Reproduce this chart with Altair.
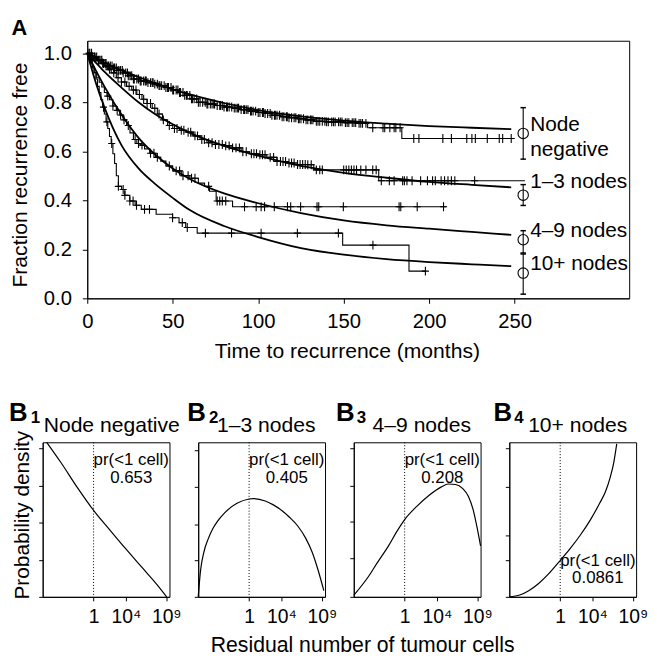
import altair as alt
import numpy as np
import pandas as pd

FONT = "Liberation Sans"

# ---------------- Panel A data ----------------
groups = ["Node negative", "1–3 nodes", "4–9 nodes", "10+ nodes"]

# Kaplan-Meier step curves: time of step (months) and survival after the step
km_nn_t = [0, 3, 6, 9, 12, 15, 18, 21, 24, 27, 31, 35, 39, 42, 46, 50, 54, 57, 61, 65, 70, 75, 80, 85,
           90, 95, 100, 104, 108, 113, 118, 123, 128, 133, 140, 150, 158, 164, 184, 249]
km_nn_s = [1.0, 0.985, 0.972, 0.958, 0.948, 0.94, 0.93, 0.92, 0.908, 0.895, 0.887, 0.88, 0.874, 0.868,
           0.86, 0.85, 0.84, 0.828, 0.814, 0.8, 0.793, 0.787, 0.781, 0.776, 0.77, 0.764, 0.758, 0.754,
           0.747, 0.741, 0.737, 0.733, 0.728, 0.722, 0.72, 0.717, 0.714, 0.696, 0.652, 0.652]

km_13_t = [0, 2, 4, 6, 8, 10, 12, 14, 17, 20, 23, 26, 29, 32, 35, 38, 41, 44, 47, 50, 54, 58, 62, 66,
           70, 75, 80, 85, 90, 95, 100, 105, 111, 117, 123, 128, 132.5, 170.5, 256]
km_13_s = [1.0, 0.99, 0.98, 0.97, 0.96, 0.948, 0.935, 0.92, 0.90, 0.883, 0.865, 0.85, 0.832, 0.812,
           0.795, 0.775, 0.752, 0.728, 0.705, 0.693, 0.686, 0.678, 0.663, 0.648, 0.635, 0.628, 0.622,
           0.614, 0.598, 0.59, 0.586, 0.575, 0.558, 0.552, 0.546, 0.545, 0.524, 0.48, 0.48]

km_49_t = [0, 1, 2, 3, 4, 5.5, 7, 8.5, 10, 11.5, 13, 15, 17, 19, 21, 23, 25, 27, 29, 31, 33.5, 36.5,
           40, 43, 46, 50, 55, 60, 65, 68.6, 71.5, 75.4, 85, 210]
km_49_s = [1.0, 0.975, 0.957, 0.94, 0.922, 0.9, 0.882, 0.862, 0.84, 0.825, 0.81, 0.785, 0.767, 0.748,
           0.728, 0.705, 0.675, 0.648, 0.632, 0.625, 0.61, 0.592, 0.575, 0.56, 0.54, 0.52, 0.5, 0.49,
           0.47, 0.457, 0.437, 0.397, 0.374, 0.374]

km_10_t = [0, 1, 2, 3, 4, 5, 6, 7, 8, 9, 10, 11, 12, 13, 14, 15, 16, 17, 18.2, 20.1, 22, 24.9, 28,
           31.6, 40.3, 49.9, 53.7, 57.6, 64.3, 149.4, 188.2, 198]
km_10_s = [1.0, 0.985, 0.965, 0.945, 0.92, 0.895, 0.865, 0.84, 0.81, 0.78, 0.752, 0.72, 0.693, 0.66,
           0.632, 0.59, 0.55, 0.5, 0.457, 0.444, 0.42, 0.397, 0.38, 0.363, 0.343, 0.329, 0.309,
           0.289, 0.266, 0.217, 0.111, 0.111]

# censoring times (months)
cens_nn = [1, 1.5, 2.5, 3, 4, 4.5, 5.5, 6.5, 7, 8, 8.5, 9.5, 10.5, 11, 12, 12.5, 13.5, 14.5, 15.5, 16,
           17, 18, 18.5, 19.5, 20.5, 21, 22.5, 23.5, 24, 25, 26, 27, 27.5, 29, 30, 31, 31.5, 33, 34,
           34.5, 35.5, 37, 38, 38.5, 39.5, 41, 42, 42.5, 43.5, 45, 46, 47, 47.5, 49, 50, 50.5, 52,
           53, 54, 54.5, 56, 57, 58, 58.5, 60, 61, 61.5, 62.5, 64, 65, 66, 67.5, 69, 70, 70.5, 72, 73,
           74, 74.5, 76, 77.5, 78, 79, 80, 81.5, 82, 83, 84.5, 86, 87, 88, 88.5, 90, 91.5, 92, 93, 94,
           95.5, 96, 97, 98.5, 100, 101, 102.5, 103, 104, 105.5, 107, 108, 109.5, 110, 111, 112.5,
           114, 115, 116.5, 117, 118, 119.5, 121, 122, 123.5, 124, 125, 126.5, 128, 129, 130.5, 131,
           132, 134, 135, 136, 137.5, 139, 140, 141, 143, 144, 145, 147, 148, 149, 151, 152, 153,
           155, 156, 157, 159, 160, 161, 163, 167, 173, 174, 177, 179.5, 180.5, 183, 191, 194, 208,
           213, 222, 225, 227, 234, 241, 243, 248]
cens_13 = [2.5, 4.5, 6.5, 9, 11, 13, 15.5, 18, 20, 22, 24.5, 27, 28.5, 30.5, 33, 35, 37, 39.5, 42, 44.5,
           48, 51, 52.5, 55, 56.5, 59, 60.5, 63, 64.5, 67, 68.5, 71, 73, 75, 77, 79, 81, 83, 85, 87, 89,
           91, 93, 96, 97.5, 99, 101, 102.5, 104, 107, 109, 111, 113, 114.5, 116, 118, 119.5, 121, 123,
           124.5, 126, 127.5, 129, 131, 134, 136, 137.5, 150, 151.5, 153, 154.5, 156, 157.5, 160, 163,
           167, 169, 172, 176.7, 179.5, 184.5, 185.5, 187, 190, 195, 199, 202, 203.6, 207, 209, 211,
           213, 215, 226.6]
cens_49 = [12, 15, 17.5, 19.5, 21.5, 24, 28, 30, 32, 37, 39, 41, 48, 52, 54, 56, 59, 61, 63, 71, 76,
           77.5, 79, 81, 92, 98.8, 101.7, 103.7, 109.4, 117.1, 119, 124.8, 134.4, 135.4, 149.8, 182.4,
           183.4, 193, 208.4]
cens_10 = [9.5, 11.5, 14.3, 18.2, 21, 22, 24.9, 26.8, 28.8, 33.5, 36.4, 49.9, 55.6, 58.5, 69.1, 84.4,
           101.7, 122.9, 146.9, 167.1, 197.8]

# fitted model curves
smooth_t = [0, 5, 10, 20, 30, 40, 50, 60, 80, 100, 125, 150, 175, 200, 225, 248]
smooth_nn = [1.0, 0.98, 0.962, 0.93, 0.903, 0.877, 0.853, 0.832, 0.797, 0.768, 0.742, 0.725, 0.713,
             0.703, 0.696, 0.69]
smooth_13 = [1.0, 0.962, 0.925, 0.86, 0.80, 0.75, 0.71, 0.675, 0.622, 0.582, 0.54, 0.512, 0.492,
             0.475, 0.463, 0.453]
smooth_49 = [1.0, 0.93, 0.865, 0.75, 0.655, 0.585, 0.53, 0.487, 0.428, 0.388, 0.348, 0.318, 0.298,
             0.284, 0.271, 0.259]
smooth_10 = [1.0, 0.88, 0.78, 0.625, 0.53, 0.465, 0.41, 0.36, 0.295, 0.25, 0.205, 0.178, 0.16,
             0.148, 0.139, 0.131]

# predicted cure fraction with interval, shown at 255 months
eb_time = 255
eb_mid = [0.673, 0.421, 0.239, 0.103]
eb_lo = [0.568, 0.379, 0.185, 0.017]
eb_hi = [0.778, 0.464, 0.276, 0.181]

x_ticks_a = [0, 50, 100, 150, 200, 250]
y_ticks_a = [0.0, 0.2, 0.4, 0.6, 0.8, 1.0]

# ---------------- Panel B data ----------------
b_titles = ["Node negative", "1–3 nodes", "4–9 nodes", "10+ nodes"]
b_subs = ["1", "2", "3", "4"]
pr_values = ["0.653", "0.405", "0.208", "0.0861"]
dens_x = [
    [-5.8, -4, -2, 0, 2, 4, 6, 8, 9.05],
    [-6.3, -6.0, -5.6, -5.1, -4.5, -3.9, -3, -1.5, 0, 0.5, 2, 3, 4, 5, 6, 7, 7.8, 8.5, 9.25],
    [-6.3, -4.5, -3.4, -2, -1, 0, 1.5, 3, 4.5, 5.4, 6.3, 7.2, 7.9, 8.5, 9.0, 9.4],
    [-6.3, -5, -3.9, -2.7, -1.5, 0, 1.2, 2.5, 3.7, 4.9, 5.6, 6.2, 6.6, 7.0],
]
dens_y = [
    [1.0, 0.866, 0.707, 0.56, 0.434, 0.31, 0.19, 0.07, 0.0],
    [0.0, 0.175, 0.29, 0.37, 0.44, 0.49, 0.545, 0.605, 0.633, 0.636, 0.62, 0.595, 0.56, 0.515, 0.46,
     0.38, 0.29, 0.18, 0.04],
    [0.01, 0.13, 0.22, 0.33, 0.42, 0.50, 0.585, 0.656, 0.71, 0.73, 0.727, 0.70, 0.65, 0.56, 0.44, 0.33],
    [0.0, 0.012, 0.04, 0.085, 0.145, 0.235, 0.31, 0.4, 0.495, 0.607, 0.68, 0.775, 0.86, 0.99],
]
y_ticks_b = [
    [0.0, 0.24, 0.48, 0.72, 0.96],
    [0.0, 0.24, 0.47, 0.71, 0.95],
    [0.0, 0.25, 0.49, 0.72, 0.96],
    [0.0, 0.234, 0.4, 0.711, 0.96],
]
x_ticks_b = [0, 4, 9]
one_cell = 0

# ---------------- build panel A ----------------
km_sets = [(km_nn_t, km_nn_s, cens_nn), (km_13_t, km_13_s, cens_13),
           (km_49_t, km_49_s, cens_49), (km_10_t, km_10_s, cens_10)]
smooth_sets = [smooth_nn, smooth_13, smooth_49, smooth_10]

km_rows, cens_rows, sm_rows = [], [], []
for g, (ts, ss, cs) in zip(groups, km_sets):
    for t, s in zip(ts, ss):
        km_rows.append({"g": g, "t": t, "s": s})
    arr = np.array(ts)
    for c in cs:
        i = max(int(np.searchsorted(arr, c, side="right")) - 1, 0)
        cens_rows.append({"g": g, "t": c, "s": ss[i]})
for g, vals in zip(groups, smooth_sets):
    for t, s in zip(smooth_t, vals):
        sm_rows.append({"g": g, "t": t, "s": s})
km_df = pd.DataFrame(km_rows)
cens_df = pd.DataFrame(cens_rows)
sm_df = pd.DataFrame(sm_rows)
eb_df = pd.DataFrame({"g": groups, "t": [eb_time] * 4, "s": eb_mid, "lo": eb_lo, "hi": eb_hi})

xsc = alt.Scale(domain=[0, 317], nice=False, zero=False)
ysc = alt.Scale(domain=[0, 1.051], nice=False, zero=False)
xax = alt.Axis(values=x_ticks_a, title="Time to recurrence (months)", labelFontSize=20.4,
               titleFontSize=21.3, tickSize=5, labelPadding=8, labelFlush=False, titleX=262, titleY=60,
               titleBaseline="alphabetic", titleAlign="center")
yax = alt.Axis(values=y_ticks_a, format=".1f", labelFontSize=20.4, tickSize=5, labelPadding=11,
               labelFlush=False, title="Fraction recurrence free", titleFontSize=21.3, titleX=-61.5,
               titleY=135, titleBaseline="alphabetic", titleAlign="center", titleAngle=270)


def X(f="t"):
    return alt.X(f"{f}:Q", scale=xsc, axis=xax)


def Y(f="s"):
    return alt.Y(f"{f}:Q", scale=ysc, axis=yax)


km = alt.Chart(km_df).mark_line(color="black", strokeWidth=1.1, interpolate="step-after").encode(
    x=X(), y=Y(), detail="g:N")
cens = alt.Chart(cens_df).mark_point(shape="M0,-1V1M-0.8,0H0.8", size=81, filled=False,
                                     color="black", strokeWidth=1.1, opacity=1).encode(x=X(), y=Y())
smooth = alt.Chart(sm_df).mark_line(color="black", strokeWidth=1.8, interpolate="monotone").encode(
    x=X(), y=Y(), detail="g:N")
eb_rule = alt.Chart(eb_df).mark_rule(color="black", strokeWidth=1.1).encode(
    x=X(), y=Y("lo"), y2="hi:Q")
cap_lo = alt.Chart(eb_df).mark_point(shape="M-1,0H1", size=30, filled=False, color="black",
                                     strokeWidth=1.5, opacity=1).encode(x=X(), y=Y("lo"))
cap_hi = alt.Chart(eb_df).mark_point(shape="M-1,0H1", size=30, filled=False, color="black",
                                     strokeWidth=1.5, opacity=1).encode(x=X(), y=Y("hi"))
circ = alt.Chart(eb_df).mark_point(shape="circle", size=110, filled=False, color="black",
                                   strokeWidth=1.1, opacity=1).encode(x=X(), y=Y())


def lab(idx, text, dy):
    return alt.Chart(eb_df.iloc[[idx]]).mark_text(
        text=text, align="left", baseline="alphabetic", dx=7, dy=dy, fontSize=21, color="black"
    ).encode(x=X(), y=Y())


labels = [lab(0, "Node", -2), lab(0, "negative", 23), lab(1, "1–3 nodes", -7),
          lab(2, "4–9 nodes", -3), lab(3, "10+ nodes", -3)]

letter_a = alt.Chart(pd.DataFrame({"k": [0]})).mark_text(
    text="A", align="left", baseline="alphabetic", fontSize=22, fontWeight="bold", color="black"
).encode(x=alt.value(-76.5), y=alt.value(-6))

top = alt.layer(km, cens, smooth, eb_rule, cap_lo, cap_hi, circ, *labels, letter_a).properties(
    width=547, height=260)

spacer = alt.Chart(pd.DataFrame({"t": [0]})).mark_point(opacity=0).encode(
    x=alt.X("t:Q", axis=None), y=alt.Y("t:Q", axis=None)
).properties(width=44.5, height=260, view=alt.ViewBackground(strokeOpacity=0, strokeWidth=0))

top_row = alt.hconcat(spacer, top, spacing=0, bounds="flush")

# ---------------- build panel B ----------------
letter_x = [-34, -11, -18, -16]
sub_x = [-12, 11, 3, 5]
title_x = [1, 19, 19, 19]
pr_y = [(23, 41), (23, 41), (23, 41), (124.5, 142.5)]

bxsc = alt.Scale(domain=[-6.3, 9.4], nice=False, zero=False)
bysc = alt.Scale(domain=[0, 1], nice=False, zero=False)
label_expr = "datum.value == 0 ? '1' : (datum.value == 4 ? '10\u2074' : '10\u2079')"

panels = []
for i in range(4):
    bx_axis = alt.Axis(values=x_ticks_b, labelExpr=label_expr, labelFontSize=19.5, tickSize=4,
                       labelPadding=7, labelFlush=False, title=None)
    if i == 0:
        by_axis = alt.Axis(values=y_ticks_b[i], labels=False, tickSize=4, title="Probability density",
                           titleFontSize=21, titleX=-14.5, titleY=73, titleBaseline="alphabetic",
                           titleAlign="center", titleAngle=270)
    else:
        by_axis = alt.Axis(values=y_ticks_b[i], labels=False, tickSize=4, title=None)
    df = pd.DataFrame({"lx": dens_x[i], "d": dens_y[i]})
    curve = alt.Chart(df).mark_line(color="black", strokeWidth=1.2, interpolate="monotone").encode(
        x=alt.X("lx:Q", scale=bxsc, axis=bx_axis), y=alt.Y("d:Q", scale=bysc, axis=by_axis))
    one_df = pd.DataFrame({"lx": [one_cell]})
    rule = alt.Chart(one_df).mark_rule(color="black", strokeWidth=1, strokeDash=[1, 2]).encode(
        x=alt.X("lx:Q", scale=bxsc, axis=bx_axis))
    t1 = alt.Chart(one_df).mark_text(text="pr(<1 cell)", align="center", baseline="alphabetic",
                                     dx=38, fontSize=17, color="black").encode(
        x=alt.X("lx:Q", scale=bxsc, axis=bx_axis), y=alt.value(pr_y[i][0]))
    t2 = alt.Chart(one_df).mark_text(text=pr_values[i], align="center", baseline="alphabetic",
                                     dx=38, fontSize=17, color="black").encode(
        x=alt.X("lx:Q", scale=bxsc, axis=bx_axis), y=alt.value(pr_y[i][1]))
    tl = alt.Chart(one_df).mark_text(text="B", align="left", baseline="alphabetic", fontSize=26,
                                     fontWeight="bold", color="black").encode(
        x=alt.value(letter_x[i]), y=alt.value(-21))
    ts = alt.Chart(one_df).mark_text(text=b_subs[i], align="left", baseline="alphabetic", fontSize=17,
                                     fontWeight="bold", color="black").encode(
        x=alt.value(sub_x[i]), y=alt.value(-19))
    tt = alt.Chart(one_df).mark_text(text=b_titles[i], align="left", baseline="alphabetic",
                                     fontSize=21.3, color="black").encode(
        x=alt.value(title_x[i]), y=alt.value(-10))
    layers = [curve, rule, t1, t2, tl, ts, tt]
    if i == 1:
        layers.append(alt.Chart(one_df).mark_text(
            text="Residual number of tumour cells", align="center", baseline="alphabetic",
            fontSize=21.4, color="black").encode(x=alt.value(166), y=alt.value(212)))
    panels.append(alt.layer(*layers).properties(width=128, height=156))

bottom_row = alt.hconcat(*panels, spacing=29, bounds="flush")

# nested concat rows count as zero height in a flush layout, so the spacing spans the top plot too
chart = alt.vconcat(top_row, bottom_row, spacing=405.3, bounds="flush").properties(
    padding={"left": 0, "top": 5, "right": 0, "bottom": 0}
).configure(font=FONT).configure_view(stroke="black", strokeWidth=1).configure_axis(
    domainColor="black", tickColor="black", labelColor="black", titleColor="black",
    labelFont=FONT, titleFont=FONT, titleFontWeight="normal", grid=False, domainWidth=1, tickWidth=1
).configure_text(font=FONT)

chart.save("out.html", embed_options={"renderer": "svg", "actions": False})
